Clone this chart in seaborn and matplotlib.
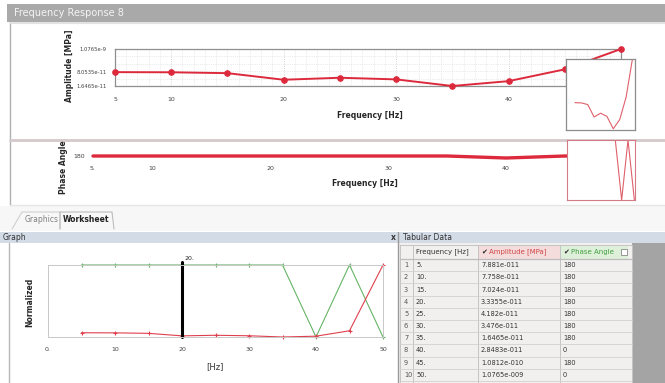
import numpy as np
import pandas as pd
import matplotlib
matplotlib.use("Agg")
import matplotlib.pyplot as plt
import matplotlib.ticker as mticker
from matplotlib.patches import Rectangle
import seaborn as sns

sns.set_theme(style="white")
plt.rcParams["font.family"] = ["DejaVu Sans"]

# ---- data -----------------------------------------------------------------
freq = [5, 10, 15, 20, 25, 30, 35, 40, 45, 50]
amplitude = [7.881e-11, 7.758e-11, 7.024e-11, 3.3355e-11, 4.182e-11,
             3.476e-11, 1.6465e-11, 2.8483e-11, 1.0812e-10, 1.0765e-9]
phase = [180, 180, 180, 180, 180, 180, 180, 0, 180, 0]
amp_labels = ["7.881e-011", "7.758e-011", "7.024e-011", "3.3355e-011",
              "4.182e-011", "3.476e-011", "1.6465e-011", "2.8483e-011",
              "1.0812e-010", "1.0765e-009"]
phase_labels = ["180", "180", "180", "180", "180", "180", "180", "0", "180", "0"]
amp_ticks = [1.6465e-11, 8.0535e-11, 1.0765e-9]
amp_tick_labels = ["1.6465e-11", "8.0535e-11", "1.0765e-9"]
freq_ticks_top = [5, 10, 20, 30, 40, 50]
graph_ticks = [0, 10, 20, 30, 40, 50]
graph_tick_labels = ["0.", "10", "20", "30", "40", "50"]
cursor_freq = 20

df = pd.DataFrame({"freq": freq, "amp": amplitude, "phase": phase})
amin, amax = df["amp"].min(), df["amp"].max()
df["amp_norm"] = (df["amp"] - amin) / (amax - amin)
df["phase_norm"] = df["phase"] / 180.0

W, H = 665, 383
fig = plt.figure(figsize=(W / 100, H / 100), dpi=100)
fig.patch.set_facecolor("white")

RED = "#dc2a3c"
GREEN = "#66b466"
GRID = "#d9d9d9"


def rect(x0, y0, x1, y1):
    return [x0 / W, 1 - y1 / H, (x1 - x0) / W, (y1 - y0) / H]


# ---- window chrome (pixel space) -------------------------------------------
bg = fig.add_axes([0, 0, 1, 1], zorder=-5)
bg.set_xlim(0, W)
bg.set_ylim(H, 0)
bg.axis("off")


def box(x0, y0, x1, y1, fc, ec="none", lw=0.8, z=0):
    bg.add_patch(Rectangle((x0, y0), x1 - x0, y1 - y0, facecolor=fc,
                           edgecolor=ec, linewidth=lw, zorder=z))


# title bar
box(7, 4, W, 22, "#a9a9a9")
bg.text(14, 13.5, "Frequency Response 8", color="#f4f4f4", fontsize=7,
        va="center", ha="left")
# chart panel border
bg.plot([10, 10], [22, 205], color="#b0b0b0", lw=1)
bg.plot([10, W], [22.5, 22.5], color="#e2e2e2", lw=1.5)
bg.plot([10, W], [140, 140], color="#d4c9cb", lw=2)
bg.plot([10, W], [205, 205], color="#e6e6e6", lw=1)

# tabs
box(0, 206, W, 231, "#f7f7f7")
bg.plot([12, 22, 60, 60], [229, 212, 212, 229], color="#d0d0d0", lw=0.8)
bg.plot([60, 60, 112, 114], [229, 212, 212, 229], color="#bdbdbd", lw=0.8)
bg.text(25, 220, "Graphics", fontsize=5.5, color="#808080", va="center")
bg.text(63, 220, "Worksheet", fontsize=5.5, color="#222222",
        fontweight="bold", va="center")

# panel headers
box(0, 232, 398, 243, "#d3dbe6")
box(398, 232, W, 243, "#d3dbe6")
bg.text(3, 237.5, "Graph", fontsize=5.5, color="#333333", va="center")
bg.text(391, 237.5, "x", fontsize=5.5, color="#333333", va="center",
        fontweight="bold")
bg.text(403, 237.5, "Tabular Data", fontsize=5.5, color="#333333",
        va="center")
bg.plot([398, 398], [232, H], color="#9a9a9a", lw=1)
bg.plot([9, 9], [243, H], color="#b8b8b8", lw=1)

# tabular data
box(399, 243, W, H, "#f1f0ee")
box(632, 243, W, H, "#a4a4a4")
col_x = [400, 413, 478, 560, 632]
head_y0, head_y1 = 245, 259
row_h = 12.2
box(478, head_y0, 560, head_y1, "#f5dcdc")
box(560, head_y0, 628, head_y1, "#def0da")
for cx in col_x:
    bg.plot([cx, cx], [head_y0, H], color="#c4c4c4", lw=0.7)
bg.plot([400, 632], [head_y0, head_y0], color="#c4c4c4", lw=0.7)
bg.plot([400, 632], [head_y1, head_y1], color="#bcbcbc", lw=0.9)
bg.text(416, 252, "Frequency [Hz]", fontsize=5, color="#333333",
        va="center")
bg.text(481, 252, "\u2714", fontsize=5, color="#222222", va="center")
bg.text(489, 252, "Amplitude [MPa]", fontsize=5, color="#d04545",
        va="center")
bg.text(563, 252, "\u2714", fontsize=5, color="#222222", va="center")
bg.text(571, 252, "Phase Angle", fontsize=5, color="#3f9f3f", va="center")
box(621, 249, 627, 255, "white", ec="#888888", lw=0.6, z=2)
for i, (f, a, p) in enumerate(zip(freq, amp_labels, phase_labels)):
    y0 = head_y1 + i * row_h
    yc = y0 + row_h / 2
    bg.plot([400, 632], [y0 + row_h, y0 + row_h], color="#d2d2d2", lw=0.6)
    bg.text(404, yc, str(i + 1), fontsize=4.8, color="#555555", va="center")
    bg.text(416, yc, f"{f}.", fontsize=4.8, color="#333333", va="center")
    bg.text(481, yc, a, fontsize=4.8, color="#333333", va="center")
    bg.text(563, yc, p, fontsize=4.8, color="#333333", va="center")


# ---- amplitude chart -------------------------------------------------------
ax1 = fig.add_axes(rect(115, 49, 621, 86))
ax1.set_yscale("log")
ax1.set_xlim(5, 50)
ax1.set_ylim(amin, amax)
ax1.xaxis.set_minor_locator(mticker.MultipleLocator(1))
ax1.grid(True, which="minor", axis="x", color=GRID, lw=0.5, ls=":")
ax1.grid(True, which="major", axis="x", color="#c8c8c8", lw=0.6, ls=":")
for gy in np.geomspace(amin, amax, 6)[1:-1]:
    ax1.axhline(gy, color=GRID, lw=0.5, ls=":", zorder=0)
sns.lineplot(data=df, x="freq", y="amp", ax=ax1, color=RED, lw=1.4,
             marker="o", markersize=4, markeredgecolor=RED, zorder=5,
             clip_on=False)
ax1.set_yticks(amp_ticks)
ax1.set_yticklabels(amp_tick_labels)
ax1.yaxis.set_minor_locator(mticker.NullLocator())
ax1.set_xticks(freq_ticks_top)
ax1.set_xticklabels([str(t) for t in freq_ticks_top])
ax1.tick_params(labelsize=4.5, colors="#444444", length=2, pad=6)
ax1.tick_params(axis="y", labelsize=3.8, length=3, pad=3)
ax1.set_xlabel("")
ax1.set_ylabel("")
for s in ax1.spines.values():
    s.set_color("#8f8f8f")
    s.set_linewidth(0.9)
fig.text(70 / W, 1 - 66 / H, "Amplitude [MPa]", rotation=90, fontsize=5.5,
         fontweight="bold", ha="center", va="center")
fig.text(370 / W, 1 - 116 / H, "Frequency [Hz]", fontsize=5.5,
         fontweight="bold", ha="center", va="center")

# ---- phase chart -----------------------------------------------------------
ax2 = fig.add_axes(rect(93, 156, 624, 158))
ax2.set_xlim(5, 50)
ax2.set_ylim(0, 180)
sns.lineplot(data=df, x="freq", y="phase", ax=ax2, color=RED, lw=2.4,
             clip_on=False)
ax2.set_yticks([180])
ax2.set_yticklabels(["180"])
ax2.set_xticks(freq_ticks_top)
ax2.set_xticklabels(["5."] + [str(t) for t in freq_ticks_top[1:]])
ax2.tick_params(labelsize=4.5, colors="#444444", length=0, pad=6)
ax2.tick_params(axis="y", pad=6)
ax2.set_xlabel("")
ax2.set_ylabel("")
for s in ax2.spines.values():
    s.set_visible(False)
ax2.patch.set_alpha(0)
fig.text(64 / W, 1 - 167 / H, "Phase Angle", rotation=90, fontsize=5.5,
         fontweight="bold", ha="center", va="center")
fig.text(365 / W, 1 - 184 / H, "Frequency [Hz]", fontsize=5.5,
         fontweight="bold", ha="center", va="center")

# ---- overview insets -------------------------------------------------------
in1 = fig.add_axes(rect(566, 59, 635, 130), zorder=10)
in1.set_facecolor("white")
in1.set_yscale("log")
in1.set_xlim(-2, 52)
in1.set_ylim(amin * 0.93, amax)
sns.lineplot(data=df, x="freq", y="amp", ax=in1, color="#e0606c", lw=0.8)
in1.set_xticks([])
in1.set_yticks([])
in1.minorticks_off()
in1.set_xlabel("")
in1.set_ylabel("")
for s in in1.spines.values():
    s.set_color("#8c8c8c")
    s.set_linewidth(0.9)

in2 = fig.add_axes(rect(567, 140, 635, 200), zorder=10)
in2.set_facecolor("white")
in2.set_xlim(-3, 50.5)
in2.set_ylim(0, 180)
sns.lineplot(data=df, x="freq", y="phase", ax=in2, color="#e0606c", lw=0.8)
in2.set_xticks([])
in2.set_yticks([])
in2.set_xlabel("")
in2.set_ylabel("")
for s in in2.spines.values():
    s.set_color("#d47a84")
    s.set_linewidth(0.8)

# ---- normalized graph ------------------------------------------------------
ax3 = fig.add_axes(rect(48, 265, 383, 337))
ax3.set_xlim(0, 50)
ax3.set_ylim(0, 1)
sns.lineplot(data=df, x="freq", y="phase_norm", ax=ax3, color=GREEN, lw=0.8,
             marker="+", markersize=3.5, markeredgewidth=0.8,
             markeredgecolor=GREEN, clip_on=False)
sns.lineplot(data=df, x="freq", y="amp_norm", ax=ax3, color="#e0404e",
             lw=0.8, marker="+", markersize=3.5, markeredgewidth=0.8,
             markeredgecolor="#e0404e", clip_on=False)
ax3.axvline(cursor_freq, ymin=0, ymax=1.04, color="black", lw=2.2,
            clip_on=False)
ax3.text(cursor_freq + 0.4, 1.06, f"{cursor_freq}.", fontsize=4.5,
         ha="left", va="bottom", transform=ax3.transData)
ax3.set_xticks(graph_ticks)
ax3.set_xticklabels(graph_tick_labels)
ax3.set_yticks([])
ax3.tick_params(labelsize=4.5, colors="#444444", length=2, pad=5)
ax3.set_xlabel("")
ax3.set_ylabel("")
for s in ax3.spines.values():
    s.set_color("#c8c8c8")
    s.set_linewidth(0.7)
fig.text(30 / W, 1 - 302 / H, "Normalized", rotation=90, fontsize=5.5,
         fontweight="bold", ha="center", va="center")
fig.text(215 / W, 1 - 367 / H, "[Hz]", fontsize=6, ha="center",
         va="center", color="#333333")

fig.savefig("out.png", dpi=100)
